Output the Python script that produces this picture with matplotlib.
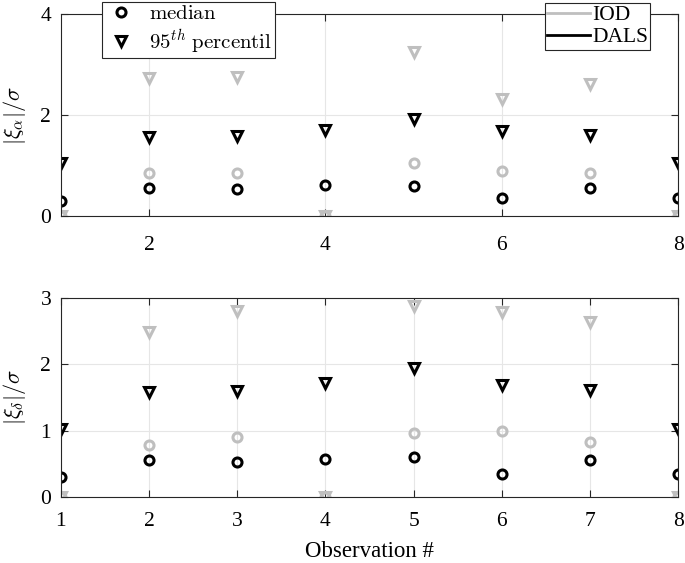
import matplotlib
matplotlib.use("Agg")
import matplotlib.pyplot as plt
from matplotlib.lines import Line2D

plt.rcParams["font.family"] = ["Liberation Serif", "DejaVu Serif"]
plt.rcParams["mathtext.fontset"] = "cm"

obs = [1, 2, 3, 4, 5, 6, 7, 8]

# top panel: |xi_alpha| / sigma
alpha_dals_med = [0.30, 0.55, 0.53, 0.61, 0.59, 0.36, 0.55, 0.36]
alpha_dals_p95 = [1.05, 1.56, 1.58, 1.70, 1.92, 1.68, 1.60, 1.05]
alpha_iod_med = [0.0, 0.85, 0.85, 0.0, 1.05, 0.89, 0.85, 0.0]
alpha_iod_p95 = [0.0, 2.73, 2.75, 0.0, 3.25, 2.32, 2.61, 0.0]

# bottom panel: |xi_delta| / sigma
delta_dals_med = [0.30, 0.56, 0.53, 0.57, 0.60, 0.35, 0.56, 0.35]
delta_dals_p95 = [1.03, 1.58, 1.60, 1.72, 1.94, 1.69, 1.61, 1.03]
delta_iod_med = [0.0, 0.78, 0.90, 0.0, 0.97, 1.00, 0.83, 0.0]
delta_iod_p95 = [0.0, 2.49, 2.80, 0.0, 2.87, 2.79, 2.64, 0.0]

gray = (0.75, 0.75, 0.75)
black = "black"

fig = plt.figure(figsize=(6.85, 5.63), dpi=100)
ax1 = fig.add_axes([0.089, 0.616, 0.901, 0.359])
ax2 = fig.add_axes([0.089, 0.117, 0.901, 0.354])


def draw(ax, iod_med, iod_p95, dals_med, dals_p95):
    kw = dict(linestyle="none", markerfacecolor="none", markeredgewidth=2.2)
    ax.plot(obs, iod_med, marker="o", markersize=6.5, markeredgecolor=gray, **kw)
    ax.plot(obs, iod_p95, marker="v", markersize=7.5, markeredgecolor=gray, **kw)
    ax.plot(obs, dals_med, marker="o", markersize=6.5, markeredgecolor=black, **kw)
    ax.plot(obs, dals_p95, marker="v", markersize=7.5, markeredgecolor=black, **kw)
    ax.set_xlim(1, 8)
    ax.grid(True, color=(0.9, 0.9, 0.9), linewidth=0.8)
    ax.set_axisbelow(True)
    ax.tick_params(direction="in", top=True, right=True, labelsize=15.5,
                   color=(0.15, 0.15, 0.15), length=5)
    ax.tick_params(axis="x", pad=11)
    ax.tick_params(axis="y", pad=7)
    for s in ax.spines.values():
        s.set_color((0.15, 0.15, 0.15))
        s.set_linewidth(0.8)


draw(ax1, alpha_iod_med, alpha_iod_p95, alpha_dals_med, alpha_dals_p95)
ax1.set_ylim(0, 4)
ax1.set_yticks([0, 2, 4])
ax1.set_xticks([2, 4, 6, 8])
ax1.tick_params(axis="x", pad=14)
ax1.set_ylabel(r"$|\xi_\alpha|/\sigma$", fontsize=16)

draw(ax2, delta_iod_med, delta_iod_p95, delta_dals_med, delta_dals_p95)
ax2.set_ylim(0, 3)
ax2.set_yticks([0, 1, 2, 3])
ax2.set_xticks(obs)
ax2.set_ylabel(r"$|\xi_\delta|/\sigma$", fontsize=16)
ax2.set_xlabel("Observation #", fontsize=16.5, labelpad=7)
ax1.yaxis.set_label_coords(-0.053, 0.5)
ax2.yaxis.set_label_coords(-0.053, 0.5)

mk = dict(linestyle="none", markerfacecolor="none", markeredgewidth=2.2,
          markeredgecolor=black)
h_marker = [Line2D([], [], marker="o", markersize=6.5, **mk),
            Line2D([], [], marker="v", markersize=7.5, **mk)]
leg1 = ax1.legend(h_marker, [r"$\mathrm{median}$", r"$95^{th}\ \mathrm{percentil}$"],
                  loc="upper left", bbox_to_anchor=(0.067, 1.062),
                  fontsize=15, frameon=True, fancybox=False,
                  edgecolor=(0.15, 0.15, 0.15), framealpha=1,
                  handlelength=1.5, handletextpad=0.6, borderpad=0.15,
                  labelspacing=0.15, borderaxespad=0)
leg1.get_frame().set_linewidth(0.8)
ax1.add_artist(leg1)

h_line = [Line2D([], [], color=gray, linewidth=2),
          Line2D([], [], color=black, linewidth=2)]
leg2 = ax1.legend(h_line, ["IOD", "DALS"], loc="upper left",
                  bbox_to_anchor=(0.784, 1.055), fontsize=15.5, frameon=True,
                  fancybox=False, edgecolor=(0.15, 0.15, 0.15), framealpha=1,
                  handlelength=2.0, handletextpad=0.1, borderpad=0.1,
                  labelspacing=0.1, borderaxespad=0)
leg2.get_frame().set_linewidth(0.8)

fig.savefig("out.png", dpi=100)
